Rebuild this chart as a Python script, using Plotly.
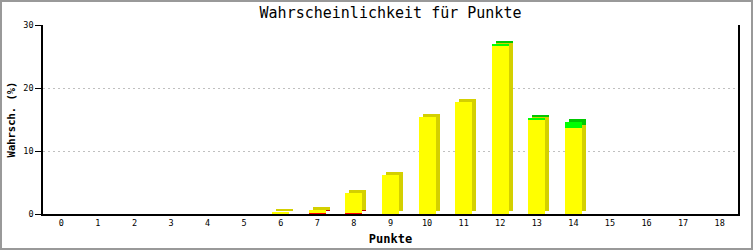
import plotly.graph_objects as go

categories = list(range(19))
red_vals = [0, 0, 0, 0, 0, 0, 0.1, 0.1, 0.15, 0, 0, 0, 0, 0, 0, 0, 0, 0, 0]
yellow_vals = [0, 0, 0, 0, 0, 0, 0.2, 0.6, 3.2, 6.2, 15.4, 17.7, 26.8, 14.9, 13.7, 0, 0, 0, 0]
green_vals = [0, 0, 0, 0, 0, 0, 0, 0, 0, 0, 0, 0, 0.1, 0.4, 0.9, 0, 0, 0, 0]

title = "Wahrscheinlichkeit für Punkte"
x_title = "Punkte"
y_title = "Wahrsch. (%)"

W, H = 753, 250
ML, MR, MT, MB = 43, 15, 25, 36
plot_w = W - ML - MR
plot_h = H - MT - MB
xr = (-0.5, 18.5)
yr = (0, 30)
px_x = plot_w / (xr[1] - xr[0])
px_y = plot_h / (yr[1] - yr[0])

bw = 17 / px_x
dx = 4 / px_x
dy = 3 / px_y

series = [
    (red_vals, "#ff0000", "#c80000"),
    (yellow_vals, "#ffff00", "#d4d000"),
    (green_vals, "#00ff00", "#00c800"),
]

fig = go.Figure()
bases = [0.0] * len(categories)
seg = []
for vals, front, side in series:
    b = list(bases)
    seg.append((vals, b, front, side))
    bases = [bi + v for bi, v in zip(bases, vals)]

# shadows (3D side/top faces)
for vals, b, front, side in seg:
    xs = [c for c, v in zip(categories, vals) if v > 0]
    ys = [v for v in vals if v > 0]
    bs = [bb + dy for bb, v in zip(b, vals) if v > 0]
    fig.add_trace(go.Bar(x=xs, y=ys, base=bs, width=bw, offset=-bw / 2 + dx,
                         marker=dict(color=side, line=dict(width=0)),
                         showlegend=False, hoverinfo="skip"))
# front faces
for vals, b, front, side in seg:
    xs = [c for c, v in zip(categories, vals) if v > 0]
    ys = [v for v in vals if v > 0]
    bs = [bb for bb, v in zip(b, vals) if v > 0]
    fig.add_trace(go.Bar(x=xs, y=ys, base=bs, width=bw, offset=-bw / 2,
                         marker=dict(color=front, line=dict(width=0)),
                         showlegend=False))

mono = "DejaVu Sans Mono"
fig.update_layout(
    width=W, height=H,
    margin=dict(l=ML, r=MR, t=MT, b=MB, autoexpand=False),
    barmode="overlay",
    bargap=0,
    plot_bgcolor="white", paper_bgcolor="white",
    title=dict(text=title, x=(ML + plot_w / 2) / W, xanchor="center",
               y=1 - 13 / H, yanchor="middle",
               font=dict(family=mono, size=15, color="black")),
    xaxis=dict(range=list(xr), tickmode="array", tickvals=categories,
               ticktext=[str(c) for c in categories], automargin=False,
               showgrid=False, zeroline=False,
               showline=True, linecolor="black", linewidth=2,
               ticks="", tickfont=dict(family=mono, size=8.5, color="black"),
               title=dict(text="<b>" + x_title + "</b>", standoff=7,
                          font=dict(family=mono, size=12, color="black"))),
    yaxis=dict(range=list(yr), tickvals=[0, 10, 20, 30], automargin=False,
               showgrid=True, gridcolor="#c0c0c0", griddash="2px,3px", gridwidth=1,
               zeroline=False, showline=True, linecolor="black", linewidth=1.5,
               mirror=True,
               ticks="outside", ticklen=6, tickcolor="black",
               tickfont=dict(family=mono, size=8.5, color="black"),
               title=dict(text="<b>" + y_title + "</b>", standoff=6,
                          font=dict(family=mono, size=10.5, color="black"))),
    shapes=[dict(type="rect", xref="paper", yref="paper",
                 x0=-(ML - 1) / plot_w, x1=1 + (MR - 1) / plot_w,
                 y0=-(MB - 1) / plot_h, y1=1 + (MT - 1) / plot_h,
                 line=dict(color="#999999", width=2), layer="above")],
)

fig.write_html("out.html")
